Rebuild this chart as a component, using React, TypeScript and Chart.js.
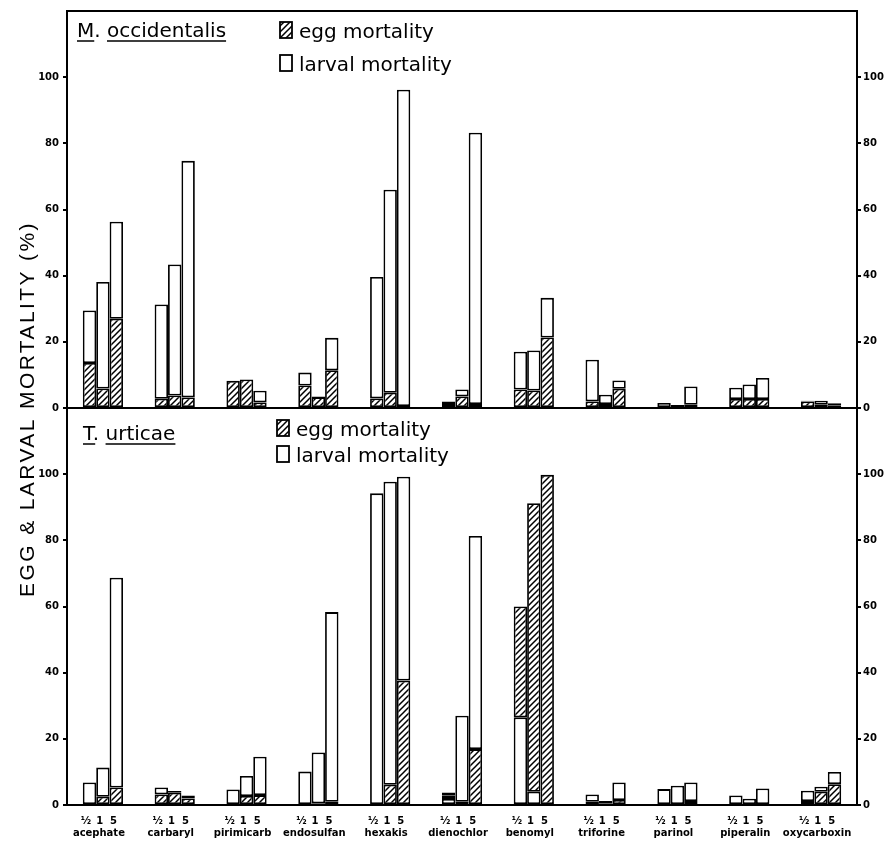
import React, { useEffect, useRef } from "react";
import { Chart, registerables } from "chart.js";

Chart.register(...registerables);

const chemicals = [
  "acephate", "carbaryl", "pirimicarb", "endosulfan", "hexakis", "dienochlor",
  "benomyl", "triforine", "parinol", "piperalin", "oxycarboxin",
];
const doseLabel = "½\u20021  5";
const yTickValues = [0, 20, 40, 60, 80, 100];

// M. occidentalis: egg (hatched) and larval (open) mortality, % per dose
const moEggHalf = [13.6, 2.8, 8.2, 6.8, 2.9, 1.2, 5.6, 2.0, 0, 2.7, 2.0];
const moLarvHalf = [15.9, 28.5, 0, 3.9, 36.7, 0.8, 11.4, 12.6, 1.5, 3.4, 0.2];
const moEggOne = [5.9, 3.8, 8.6, 3.3, 4.6, 3.5, 5.3, 1.2, 0.3, 2.7, 1.0];
const moLarvOne = [32.2, 39.6, 0, 0.2, 61.4, 2.1, 12.1, 2.8, 0.6, 4.4, 1.2];
const moEggFive = [27.0, 3.2, 1.7, 11.4, 0.6, 1.2, 21.3, 5.8, 1.0, 2.7, 0.8];
const moLarvFive = [29.3, 71.5, 3.5, 9.8, 95.6, 82.0, 12.0, 2.5, 5.5, 6.4, 0.6];

// T. urticae: open part below the hatched part, egg (hatched), open part above
const tuLarvBelowHalf = [0, 0, 0, 0, 0, 1.8, 26.5, 0, 0, 0, 0];
const tuEggHalf = [0, 3.2, 0, 0, 0, 1.0, 33.5, 1.0, 0, 0, 1.2];
const tuLarvHalf = [6.8, 2.1, 4.7, 10.1, 94.2, 1.0, 0, 2.2, 4.8, 2.9, 3.1];
const tuLarvBelowOne = [0, 0, 0, 0, 0, 0, 4.0, 0, 0, 0, 0];
const tuEggOne = [2.5, 3.7, 2.7, 0.5, 6.1, 1.0, 87.2, 0.4, 0, 0, 4.0];
const tuLarvOne = [8.8, 0.5, 6.1, 15.4, 91.6, 26.0, 0, 0.8, 5.8, 1.9, 1.5];
const tuLarvBelowFive = [0, 0, 0, 0, 0, 0, 0, 0, 0, 0, 0];
const tuEggFive = [5.3, 2.0, 3.0, 1.0, 37.6, 16.9, 99.8, 1.5, 1.2, 0, 6.3];
const tuLarvFive = [63.4, 0.9, 11.6, 57.3, 61.6, 64.4, 0, 5.3, 5.6, 5.0, 3.7];

const FONT = "'DejaVu Sans', sans-serif";

function makeHatch(): CanvasPattern | string {
  const c = document.createElement("canvas");
  const s = 6;
  c.width = s;
  c.height = s;
  const g = c.getContext("2d");
  if (!g) return "#888";
  g.fillStyle = "#fff";
  g.fillRect(0, 0, s, s);
  g.strokeStyle = "#000";
  g.lineWidth = 1.5;
  g.beginPath();
  g.moveTo(-1, s + 1);
  g.lineTo(s + 1, -1);
  g.moveTo(-1, 1);
  g.lineTo(1, -1);
  g.moveTo(s - 1, s + 1);
  g.lineTo(s + 1, s - 1);
  g.stroke();
  const p = g.createPattern(c, "repeat");
  return p || "#888";
}

export default function App() {
  const ref = useRef<HTMLCanvasElement | null>(null);

  useEffect(() => {
    if (!ref.current) return;
    const hatch = makeHatch();

    const barStyle = {
      borderColor: "#000",
      borderWidth: 1.8,
      borderSkipped: false as const,
    };

    const doses = [
      { id: "half", mo: [moEggHalf, moLarvHalf], tu: [tuLarvBelowHalf, tuEggHalf, tuLarvHalf] },
      { id: "one", mo: [moEggOne, moLarvOne], tu: [tuLarvBelowOne, tuEggOne, tuLarvOne] },
      { id: "five", mo: [moEggFive, moLarvFive], tu: [tuLarvBelowFive, tuEggFive, tuLarvFive] },
    ];

    const datasets: any[] = [];
    doses.forEach((d) => {
      datasets.push({ label: "egg mortality", data: d.mo[0], stack: d.id, yAxisID: "yTop", backgroundColor: hatch, ...barStyle });
      datasets.push({ label: "larval mortality", data: d.mo[1], stack: d.id, yAxisID: "yTop", backgroundColor: "#fff", ...barStyle });
      datasets.push({ label: "larval mortality", data: d.tu[0], stack: d.id, yAxisID: "yBot", backgroundColor: "#fff", ...barStyle });
      datasets.push({ label: "egg mortality", data: d.tu[1], stack: d.id, yAxisID: "yBot", backgroundColor: hatch, ...barStyle });
      datasets.push({ label: "larval mortality", data: d.tu[2], stack: d.id, yAxisID: "yBot", backgroundColor: "#fff", ...barStyle });
    });

    const tickFont = { family: FONT, weight: "bold" as const, size: 10 };
    const tickCb = (v: any) => (yTickValues.includes(Number(v)) ? String(v) : null);

    const yScale = (position: "left" | "right", stack: string, weight: number, width: number) => ({
      type: "linear" as const,
      position,
      stack,
      stackWeight: 1,
      weight,
      min: 0,
      max: 120,
      stacked: true,
      border: { display: false },
      grid: { drawOnChartArea: false, drawTicks: true, tickLength: 4, color: "#000", lineWidth: 2 },
      ticks: { stepSize: 20, callback: tickCb, color: "#000", font: tickFont, padding: position === "left" ? 4 : 2 },
      afterFit: (s: any) => {
        s.width = width;
      },
    });

    const drawLabel = (ctx: CanvasRenderingContext2D, x: number, y: number, initial: string, rest: string) => {
      ctx.font = `20px ${FONT}`;
      ctx.textAlign = "left";
      ctx.textBaseline = "alphabetic";
      ctx.fillStyle = "#000";
      const full = `${initial}. `;
      ctx.fillText(full + rest, x, y);
      const wI = ctx.measureText(initial).width;
      const wFull = ctx.measureText(full).width;
      const wRest = ctx.measureText(rest).width;
      ctx.lineWidth = 1.6;
      ctx.beginPath();
      ctx.moveTo(x, y + 4);
      ctx.lineTo(x + wI, y + 4);
      ctx.moveTo(x + wFull, y + 4);
      ctx.lineTo(x + wFull + wRest, y + 4);
      ctx.stroke();
    };

    const drawLegend = (ctx: CanvasRenderingContext2D, x: number, y1: number, y2: number) => {
      const items = [
        { y: y1, fill: hatch, text: "egg mortality" },
        { y: y2, fill: "#fff", text: "larval mortality" },
      ];
      items.forEach((it) => {
        ctx.fillStyle = it.fill as any;
        ctx.fillRect(x, it.y - 16, 12, 16);
        ctx.strokeStyle = "#000";
        ctx.lineWidth = 1.8;
        ctx.strokeRect(x, it.y - 16, 12, 16);
        ctx.fillStyle = "#000";
        ctx.font = `20px ${FONT}`;
        ctx.textAlign = "left";
        ctx.textBaseline = "alphabetic";
        ctx.fillText(it.text, x + 19, it.y);
      });
    };

    const decor = {
      id: "decor",
      afterDatasetsDraw(chart: any) {
        const { ctx, chartArea, scales } = chart;
        const { left, right, top, bottom } = chartArea;
        const mid = scales.yTop.getPixelForValue(0);
        ctx.save();
        ctx.strokeStyle = "#000";
        ctx.lineWidth = 2;
        ctx.beginPath();
        ctx.moveTo(left, top);
        ctx.lineTo(right, top);
        ctx.moveTo(left, mid);
        ctx.lineTo(right, mid);
        ctx.moveTo(left, bottom);
        ctx.lineTo(right, bottom);
        ctx.moveTo(left, top - 1);
        ctx.lineTo(left, bottom + 1);
        ctx.moveTo(right, top - 1);
        ctx.lineTo(right, bottom + 1);
        ctx.stroke();

        // panel labels
        drawLabel(ctx, 77, 37, "M", "occidentalis");
        drawLabel(ctx, 83, 440, "T", "urticae");

        // legends
        drawLegend(ctx, 280, 38, 71);
        drawLegend(ctx, 277, 436, 462);

        // shared y title
        ctx.save();
        ctx.translate(28, (top + bottom) / 2 + 1);
        ctx.rotate(-Math.PI / 2);
        ctx.font = "21px 'Liberation Sans', Arial, sans-serif";
        (ctx as any).letterSpacing = "2.4px";
        ctx.textAlign = "center";
        ctx.textBaseline = "middle";
        ctx.fillStyle = "#000";
        ctx.fillText("EGG & LARVAL MORTALITY (%)", 0, 0);
        ctx.restore();
        ctx.restore();
      },
    };

    const chart = new Chart(ref.current, {
      type: "bar",
      data: {
        labels: chemicals.map((c) => [doseLabel, c]),
        datasets,
      },
      options: {
        animation: false,
        responsive: true,
        maintainAspectRatio: false,
        categoryPercentage: 0.56,
        barPercentage: 1,
        layout: { padding: { top: 11, left: 0, right: 0, bottom: 0 } },
        plugins: { legend: { display: false }, tooltip: { enabled: false } },
        scales: {
          x: {
            type: "category",
            grid: { display: false, drawTicks: false },
            border: { display: false },
            ticks: {
              color: "#000",
              font: { ...tickFont, lineHeight: 1.2 },
              padding: 10,
              maxRotation: 0,
              autoSkip: false,
              labelOffset: -4,
            },
            afterFit: (s: any) => {
              s.height = 41;
            },
          },
          yTop: yScale("left", "L", 1, 67),
          yBot: yScale("left", "L", 0, 67),
          yTopR: yScale("right", "R", 0, 29),
          yBotR: yScale("right", "R", 1, 29),
        } as any,
      },
      plugins: [decor],
    });

    return () => chart.destroy();
  }, []);

  return (
    <div style={{ position: "fixed", left: 0, top: 0, width: 886, height: 846, background: "#fff" }}>
      <canvas ref={ref} />
    </div>
  );
}
